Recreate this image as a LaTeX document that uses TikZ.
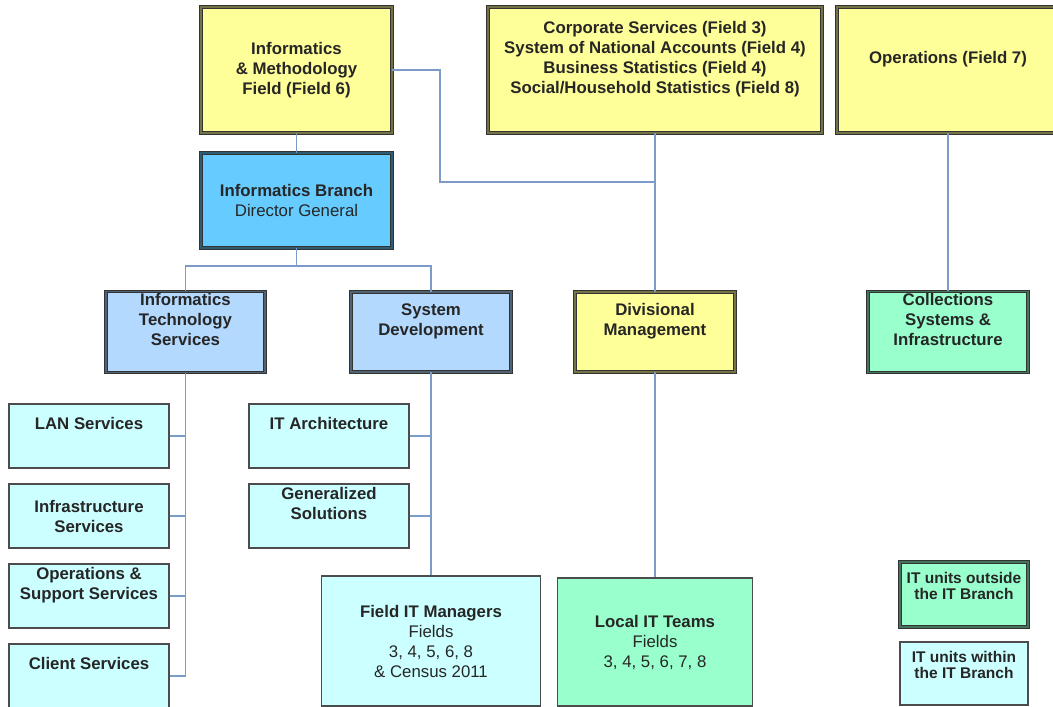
\documentclass[tikz,border=0pt]{standalone}
\usepackage{fontspec}
\setmainfont{Liberation Sans}
\usepackage{xcolor}
\definecolor{Col1}{RGB}{255,255,153}
\definecolor{Col2}{RGB}{102,204,255}
\definecolor{Col3}{RGB}{179,217,255}
\definecolor{Col4}{RGB}{204,255,255}
\definecolor{Col5}{RGB}{153,255,204}
\definecolor{Col6}{RGB}{125,155,200}
\usepackage{tikz}
\tikzstyle{Box}=[rectangle,draw=black!70,line width=1.2pt,align=center,
inner sep=2pt,text=black!85,font=\fontsize{16.8}{20}\selectfont\bfseries]
\tikzstyle{BoxD}=[Box,draw=black!80,line width=0.8pt,double distance=1.6pt]
\tikzstyle{Edge}=[draw=Col6,line width=1.4pt]
\tikzstyle{Small}=[font=\fontsize{15.5}{16}\selectfont\bfseries]
\newcommand{\Lift}{\rule[-25pt]{0pt}{25pt}}
\newcommand{\LiftS}{\rule[-17pt]{0pt}{17pt}}

\begin{document}
\begin{tikzpicture}[x=1pt,y=-1pt]
        \useasboundingbox(0,0)rectangle(1053,707);
        % fields
        \node[BoxD,fill=Col1,double=Col1!45!black,minimum width=191pt,
            minimum height=126pt](imf)at(296.5,70)
            {Informatics\\\& Methodology\\Field (Field 6)};
        \node[BoxD,fill=Col1,double=Col1!45!black,minimum width=334pt,
            minimum height=126pt](corp)at(655,70)
            {Corporate Services (Field 3)\\System of National Accounts (Field 4)\\
            Business Statistics (Field 4)\\Social/Household Statistics (Field 8)\Lift};
        \node[BoxD,fill=Col1,double=Col1!45!black,minimum width=222pt,
            minimum height=126pt](ops)at(948,70){Operations (Field 7)\Lift};
        \node[BoxD,fill=Col2,double=Col2!45!black,minimum width=191pt,
            minimum height=95pt](ib)at(296.5,200.5)
            {Informatics Branch\\{\mdseries Director General}};
        % second row
        \node[BoxD,fill=Col3,double=Col3!45!black,minimum width=159pt,
            minimum height=80pt](its)at(185.5,332)
            {Informatics\\Technology\\Services\Lift};
        \node[BoxD,fill=Col3,double=Col3!45!black,minimum width=160pt,
            minimum height=80pt](sd)at(431,332){System\\Development\Lift};
        \node[BoxD,fill=Col1,double=Col1!45!black,minimum width=160pt,
            minimum height=80pt](dm)at(655,332){Divisional\\Management\Lift};
        \node[BoxD,fill=Col5,double=Col5!45!black,minimum width=160pt,
            minimum height=80pt](coll)at(948,332)
            {Collections\\Systems \&\\Infrastructure\Lift};
        % IT units
        \node[Box,fill=Col4,minimum width=160pt,minimum height=64pt](lan)
            at(89,436){LAN Services\Lift};
        \node[Box,fill=Col4,minimum width=160pt,minimum height=64pt](inf)
            at(89,516){Infrastructure\\Services};
        \node[Box,fill=Col4,minimum width=160pt,minimum height=64pt](osp)
            at(89,596){Operations \&\\Support Services\Lift};
        \node[Box,fill=Col4,minimum width=160pt,minimum height=64pt](cli)
            at(89,676){Client Services\Lift};
        \node[Box,fill=Col4,minimum width=160pt,minimum height=64pt](ita)
            at(329,436){IT Architecture\Lift};
        \node[Box,fill=Col4,minimum width=160pt,minimum height=64pt](gsol)
            at(329,516){Generalized\\Solutions\Lift};
        \node[Box,fill=Col4,minimum width=219pt,minimum height=130pt](fitm)
            at(431,641){Field IT Managers\\{\mdseries Fields}\\
            {\mdseries 3, 4, 5, 6, 8}\\{\mdseries\& Census 2011}};
        \node[Box,fill=Col5,minimum width=195pt,minimum height=128pt](lit)
            at(655,642){Local IT Teams\\{\mdseries Fields}\\
            {\mdseries 3, 4, 5, 6, 7, 8}};
        % legend
        \node[BoxD,Small,fill=Col5,double=Col5!45!black,minimum width=128pt,
            minimum height=65pt](lgo)at(964,594.5)
            {IT units outside\\the IT Branch\LiftS};
        \node[Box,Small,fill=Col4,minimum width=128pt,minimum height=63pt](lgi)
            at(964,673.5){IT units within\\the IT Branch\LiftS};
        % connectors
        \coordinate(k1)at(440,182);
        \coordinate(k2)at(296.5,266);
        \draw[Edge](imf.south)--(ib.north);
        \draw[Edge](imf.east)-|(k1)--(k1-|corp.south);
        \draw[Edge](corp.south)--(dm.north);
        \draw[Edge](dm.south)--(lit.north);
        \draw[Edge](ops.south)--(coll.north);
        \draw[Edge](ib.south)--(k2);
        \draw[Edge](its.north)|-(k2)-|(sd.north);
        \draw[Edge](its.south)|-(cli.east);
        \draw[Edge](lan.east)-|(its.south);
        \draw[Edge](inf.east)-|(its.south);
        \draw[Edge](osp.east)-|(its.south);
        \draw[Edge](sd.south)--(fitm.north);
        \draw[Edge](ita.east)-|(sd.south);
        \draw[Edge](gsol.east)-|(sd.south);
    \end{tikzpicture}
\end{document}
